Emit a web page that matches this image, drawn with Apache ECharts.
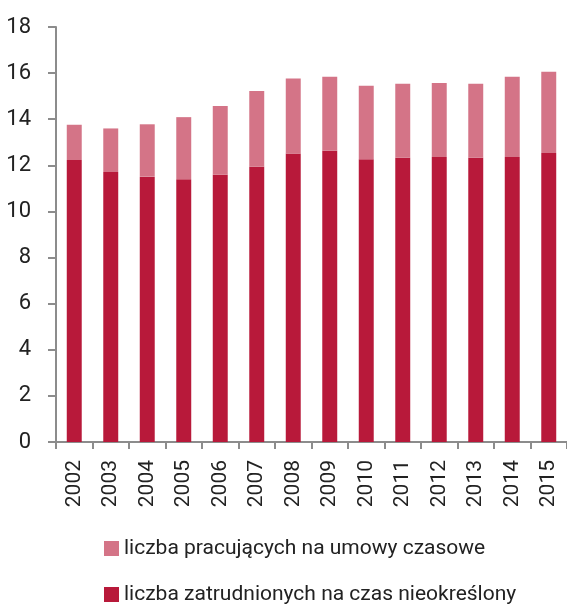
<!DOCTYPE html>
<html>
<head>
    <meta charset="utf-8">
    <title>ECharts</title>
    <script src="https://cdn.jsdelivr.net/npm/echarts@6/dist/echarts.min.js"></script>
    <style>
        html, body { margin: 0; padding: 0; background: #fff; }
    </style>
</head>
<body>
    <div id="main" style="width: 567px;height:604px;"></div>
    <script type="text/javascript">
        // dane
        var lata = ['2002','2003','2004','2005','2006','2007','2008','2009','2010','2011','2012','2013','2014','2015'];
        var nieokreslony = [12.23, 11.71, 11.51, 11.40, 11.59, 11.94, 12.51, 12.63, 12.26, 12.33, 12.36, 12.33, 12.36, 12.53];
        var czasowe = [1.53, 1.89, 2.27, 2.69, 2.98, 3.28, 3.26, 3.21, 3.19, 3.21, 3.21, 3.21, 3.48, 3.53];
        var osY = [0, 2, 4, 6, 8, 10, 12, 14, 16, 18];

        var nazwaCzasowe = 'liczba pracujących na umowy czasowe';
        var nazwaNieokreslony = 'liczba zatrudnionych na czas nieokreślony';

        var font = 'Roboto, sans-serif';
        var axisColor = '#8c8c8c';

        var myChart = echarts.init(document.getElementById('main'));

        // jedna legenda na wiersz
        function legenda(nazwa, top) {
            return {
                orient: 'vertical',
                left: 99,
                top: top,
                itemWidth: 15,
                itemHeight: 15,
                icon: 'rect',
                data: [nazwa],
                textStyle: { fontFamily: font, fontSize: 21, color: '#222' }
            };
        }

        var option = {
            animation: false,
            textStyle: { fontFamily: font },
            grid: {
                left: 56,
                right: 0,
                top: 27,
                bottom: 162,
                containLabel: false
            },
            legend: [
                legenda(nazwaCzasowe, 533),
                legenda(nazwaNieokreslony, 579)
            ],
            xAxis: {
                type: 'category',
                data: lata,
                axisLine: { lineStyle: { color: axisColor, width: 2 } },
                axisTick: { show: true, length: 7, lineStyle: { color: axisColor, width: 2 } },
                axisLabel: {
                    rotate: 90,
                    margin: 18,
                    fontFamily: font,
                    fontSize: 21,
                    color: '#222'
                }
            },
            yAxis: {
                type: 'value',
                min: osY[0],
                max: osY[osY.length - 1],
                interval: 2,
                splitLine: { show: false },
                axisLine: { show: true, lineStyle: { color: axisColor, width: 2 } },
                axisTick: { show: true, length: 8, lineStyle: { color: axisColor, width: 2 } },
                axisLabel: {
                    margin: 25,
                    fontFamily: font,
                    fontSize: 22,
                    color: '#222'
                }
            },
            series: [
                {
                    name: nazwaNieokreslony,
                    type: 'bar',
                    stack: 'razem',
                    barWidth: '41%',
                    itemStyle: { color: '#b8193a' },
                    data: nieokreslony
                },
                {
                    name: nazwaCzasowe,
                    type: 'bar',
                    stack: 'razem',
                    barWidth: '41%',
                    itemStyle: { color: '#d47487' },
                    data: czasowe
                }
            ]
        };

        myChart.setOption(option);
    </script>
</body>
</html>
